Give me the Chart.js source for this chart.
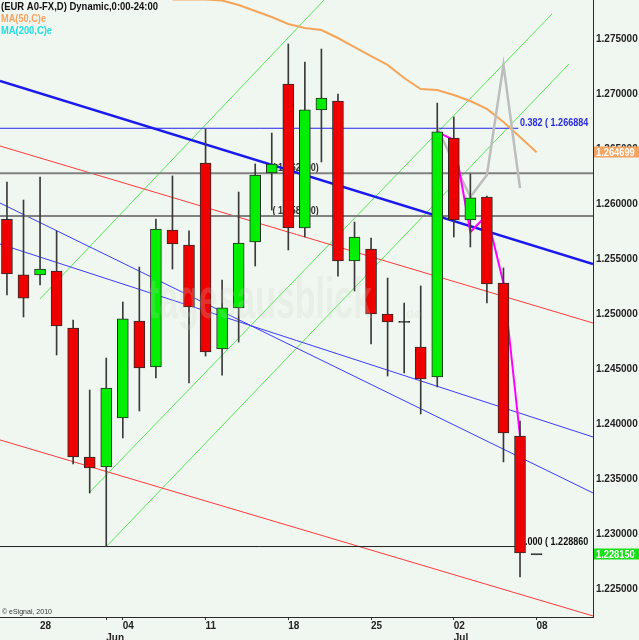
<!DOCTYPE html>
<html>
<head>
<meta charset="utf-8">
<title>EUR A0-FX daily</title>
<script src="https://cdn.jsdelivr.net/npm/chart.js@4.4.1/dist/chart.umd.min.js"></script>
<style>
  html, body { margin: 0; padding: 0; background: #f0f7f0; }
  #wrap { width: 639px; height: 640px; position: relative; }
</style>
</head>
<body>
<div id="wrap"><canvas id="chart"></canvas></div>
<script>
// daily bars, 0 = first visible candle
const dayIndex = [0, 1, 2, 3, 4, 5, 6, 7, 8, 9, 10, 11, 12, 13, 14, 15, 16, 17, 18, 19, 20, 21, 22, 23, 24, 25, 26, 27, 28, 29, 30, 31, 32];
const opens  = [1.25860, 1.25355, 1.25355, 1.25391, 1.24873, 1.23700, 1.23609, 1.24055, 1.24936, 1.24518, 1.25764, 1.25627, 1.26373, 1.24682, 1.25055, 1.25655, 1.26282, 1.27091, 1.25782, 1.26855, 1.26936, 1.25482, 1.25591, 1.25000, 1.24932, 1.24700, 1.24427, 1.26600, 1.25855, 1.26064, 1.25282, 1.23891, 1.22815];
const highs  = [1.26200, 1.26036, 1.26245, 1.25755, 1.24945, 1.24309, 1.24600, 1.25109, 1.25427, 1.25864, 1.26255, 1.25755, 1.26682, 1.25309, 1.26109, 1.26364, 1.26645, 1.27455, 1.27291, 1.27409, 1.27000, 1.25836, 1.25691, 1.25327, 1.25100, 1.25255, 1.26918, 1.26791, 1.26273, 1.26073, 1.25418, 1.24027, 1.22815];
const lows   = [1.25173, 1.24973, 1.25264, 1.24627, 1.23636, 1.23373, 1.22886, 1.23873, 1.24118, 1.24418, 1.25409, 1.24373, 1.24618, 1.24445, 1.24745, 1.25436, 1.25945, 1.25582, 1.25700, 1.26382, 1.25345, 1.25209, 1.24727, 1.24436, 1.24464, 1.24091, 1.24336, 1.25700, 1.25609, 1.25100, 1.23655, 1.22609, 1.22815];
const closes = [1.25364, 1.25145, 1.25409, 1.24891, 1.23700, 1.23600, 1.24327, 1.24955, 1.24509, 1.25773, 1.25636, 1.25064, 1.24655, 1.25055, 1.25645, 1.26264, 1.26364, 1.25782, 1.26855, 1.26964, 1.25482, 1.25700, 1.25000, 1.24927, 1.24925, 1.24409, 1.26655, 1.25855, 1.26055, 1.25273, 1.23918, 1.22827, 1.22815];

// MA(50) - only the visible part
const ma50Index = [10, 11, 12, 13, 14, 15, 16, 17, 18, 19, 20, 21, 22, 23, 24, 25, 26, 27, 28, 29, 30, 31, 32];
const ma50Values = [1.27860, 1.27860, 1.27860, 1.27850, 1.27809, 1.27755, 1.27700, 1.27636, 1.27600, 1.27582, 1.27509, 1.27427, 1.27345, 1.27264, 1.27145, 1.27045, 1.27036, 1.26991, 1.26936, 1.26864, 1.26745, 1.26609, 1.264699];

// zigzag lines on the last bars
const grayIndex = [26, 28, 29, 30, 31];
const grayValues = [1.26691, 1.26064, 1.26264, 1.27264, 1.26145];
const pinkIndex = [26, 27, 28, 29, 30, 31];
const pinkValues = [1.26655, 1.26582, 1.25745, 1.25900, 1.25282, 1.23891];

// trendlines: [index, price] end points
const trendBlue  = [[-0.42, 1.27118], [35.41, 1.25455]];
const channelA   = [[-0.42, 1.26009], [35.41, 1.23373]];
const channelB   = [[-0.42, 1.25636], [35.41, 1.23882]];
const redUpper   = [[-0.42, 1.26527], [35.41, 1.24918]];
const redLower   = [[-0.42, 1.23855], [35.41, 1.22255]];
const greenOne   = [[1.99, 1.25136], [19.73, 1.27945]];
const greenTwo   = [[4.95, 1.23373], [32.93, 1.27727]];
const greenThree = [[5.98, 1.22882], [33.96, 1.27273]];

// horizontal levels
const levels = [1.2628, 1.2589];
const levelLabels = ['( 1.262800)', '( 1.258900)'];
const fibLevels = [1.266884, 1.228860];
const fibLabels = ['0.382 ( 1.266884', '0.000 ( 1.228860'];
const fibStart = -0.42, fibEnd = 30.9;

// axis
const priceTicks = [1.225, 1.230, 1.235, 1.240, 1.245, 1.250, 1.255, 1.260, 1.265, 1.270, 1.275];
const tickIndex  = [2, 6, 7, 12, 17, 22, 27, 32];
const tickDays   = ['28', '', '04', '11', '18', '25', '02', '08'];
const tickMonths = ['', 'Jun', '', '', '', '', 'Jul', ''];
const lastPrice = 1.22815;
const ma50Last = 1.264699;

const xMin = -0.42, xMax = 35.41;
const yMin = 1.222455, yMax = 1.278545;

const sans = "'Liberation Sans', Arial, sans-serif";

function bodyRange(i) {
    const lo = Math.min(opens[i], closes[i]);
    const hi = Math.max(opens[i], closes[i]);
    if (hi - lo < 0.0001) {
        const m = (hi + lo) / 2;
        return [m - 0.00006, m + 0.00006];
    }
    return [lo, hi];
}

function bodyColor(i) {
    if (Math.abs(opens[i] - closes[i]) < 0.0001) return '#222';
    return closes[i] >= opens[i] ? '#00ee00' : '#ee0000';
}

function segment(points, color, width, order) {
    return {
        type: 'line',
        data: points.map(p => ({ x: p[0], y: p[1] })),
        borderColor: color,
        borderWidth: width,
        pointRadius: 0,
        fill: false,
        tension: 0,
        clip: 0,
        order: order || 10
    };
}

// узкий шрифт: сжимаем по горизонтали
function narrowText(ctx, text, x, y, sx) {
    ctx.save();
    ctx.translate(x, y);
    ctx.scale(sx, 1);
    ctx.fillText(text, 0, 0);
    ctx.restore();
}

function noPadding(s) {
    s.paddingTop = 0;
    s.paddingBottom = 0;
    s.paddingLeft = 0;
    s.paddingRight = 0;
}

const overlay = {
    id: 'overlay',
    beforeDatasetsDraw(chart) {
        const { ctx, chartArea: a, scales: { x, y } } = chart;
        ctx.save();
        ctx.beginPath();
        ctx.rect(a.left, a.top, a.right - a.left, a.bottom - a.top);
        ctx.clip();
        ctx.textBaseline = 'alphabetic';
        ctx.font = 'bold 11px ' + sans;

        // подписи уровней (под свечами)
        ctx.fillStyle = '#333';
        levels.forEach((v, i) => {
            narrowText(ctx, levelLabels[i], x.getPixelForValue(16.05), y.getPixelForValue(v) - 2, 0.82);
        });

        // фибо
        ctx.fillStyle = '#2a2ae0';
        narrowText(ctx, fibLabels[0], x.getPixelForValue(31.0), y.getPixelForValue(fibLevels[0]) - 2, 0.82);
        ctx.fillStyle = '#111';
        narrowText(ctx, fibLabels[1], x.getPixelForValue(31.0), y.getPixelForValue(fibLevels[1]) - 2, 0.82);
        ctx.restore();
    },
    afterDatasetsDraw(chart) {
        const { ctx, chartArea: a } = chart;
        ctx.save();
        ctx.beginPath();
        ctx.rect(a.left, a.top, a.right - a.left, a.bottom - a.top);
        ctx.clip();
        // водяной знак
        ctx.fillStyle = 'rgba(200, 215, 200, 0.22)';
        ctx.textBaseline = 'alphabetic';
        ctx.font = 'bold 58px ' + sans;
        const w = ctx.measureText('tagesausblick').width;
        narrowText(ctx, 'tagesausblick', 148, 318, 224 / w);
        ctx.font = 'bold 13px ' + sans;
        ctx.fillText('de', 406, 318);
        ctx.restore();
    },
    afterDraw(chart) {
        const { ctx, chartArea: a, scales: { y } } = chart;
        ctx.save();
        ctx.textBaseline = 'alphabetic';
        ctx.textAlign = 'left';
        ctx.font = 'bold 11.5px ' + sans;
        ctx.fillStyle = '#111';
        narrowText(ctx, '(EUR A0-FX,D) Dynamic,0:00-24:00', 1, 10, 157 / ctx.measureText('(EUR A0-FX,D) Dynamic,0:00-24:00').width);
        ctx.fillStyle = '#f4a460';
        narrowText(ctx, 'MA(50,C)e', 1, 22, 45 / ctx.measureText('MA(50,C)e').width);
        ctx.fillStyle = '#22dede';
        narrowText(ctx, 'MA(200,C)e', 1, 34, 51 / ctx.measureText('MA(200,C)e').width);

        ctx.font = '7px ' + sans;
        ctx.fillStyle = '#333';
        ctx.fillText('\u00a9 eSignal, 2010', 2, 614);

        // ценники справа
        const boxes = [[ma50Last, '#f4a460'], [lastPrice, '#19e019']];
        ctx.font = 'bold 10px ' + sans;
        ctx.textBaseline = 'middle';
        boxes.forEach(([v, c]) => {
            const py = y.getPixelForValue(v);
            ctx.fillStyle = c;
            ctx.fillRect(a.right + 1, Math.round(py) - 5.5, 639 - a.right, 11);
            ctx.fillStyle = '#fff';
            narrowText(ctx, v.toFixed(6), a.right + 3, py + 0.5, 0.93);
        });
        ctx.restore();
    }
};

const datasets = [
    {
        type: 'bar',
        data: dayIndex.map((d, i) => ({ x: d, y: bodyRange(i) })),
        backgroundColor: dayIndex.map((d, i) => bodyColor(i)),
        borderColor: '#2a2a2a',
        borderWidth: 1,
        borderSkipped: false,
        barThickness: 11,
        grouped: false,
        order: 1
    },
    {
        type: 'bar',
        data: dayIndex.map((d, i) => ({ x: d, y: [lows[i], highs[i]] })),
        backgroundColor: '#3a3a3a',
        borderWidth: 0,
        barThickness: 1,
        grouped: false,
        order: 2
    },
    segment([[xMin, levels[0]], [xMax, levels[0]]], '#808080', 2),
    segment([[xMin, levels[1]], [xMax, levels[1]]], '#808080', 2),
    segment([[fibStart, fibLevels[0]], [fibEnd, fibLevels[0]]], '#2525e8', 1),
    segment([[fibStart, fibLevels[1]], [fibEnd, fibLevels[1]]], '#222', 1),
    segment(redUpper, '#ff3a3a', 1),
    segment(redLower, '#ff3a3a', 1),
    segment(channelA, '#3b3bff', 1),
    segment(channelB, '#3b3bff', 1),
    segment(greenOne, '#55e855', 1),
    segment(greenTwo, '#55e855', 1),
    segment(greenThree, '#55e855', 1),
    segment(trendBlue, '#1a1aee', 2.5, 9),
    segment(ma50Index.map((d, i) => [d, ma50Values[i]]), '#f5a55a', 2, 8),
    segment(grayIndex.map((d, i) => [d, grayValues[i]]), '#bdbdbd', 2.5, 7),
    segment(pinkIndex.map((d, i) => [d, pinkValues[i]]), '#ff00ff', 2, 6)
];

new Chart(document.getElementById('chart'), {
    type: 'bar',
    data: { datasets },
    options: {
        responsive: true,
        maintainAspectRatio: false,
        animation: false,
        layout: { padding: 0 },
        plugins: { legend: { display: false }, tooltip: { enabled: false } },
        scales: {
            x: {
                type: 'linear',
                min: xMin,
                max: xMax,
                offset: false,
                afterBuildTicks: s => { s.ticks = tickIndex.map(v => ({ value: v })); },
                afterFit: s => { s.height = 23; noPadding(s); },
                grid: {
                    offset: false,
                    drawOnChartArea: false,
                    tickLength: 3,
                    color: ctx => (ctx.tick && ctx.tick.value === 2) ? 'rgba(0,0,0,0)' : '#333'
                },
                border: { display: true, color: '#2a2a2a', width: 1 },
                ticks: {
                    align: 'start',
                    padding: 0,
                    autoSkip: false,
                    maxRotation: 0,
                    color: '#222',
                    font: { family: sans, size: 10, weight: 'bold', lineHeight: 1.2 },
                    callback: (v, i) => tickMonths[i] ? [tickDays[i], tickMonths[i]] : tickDays[i]
                }
            },
            y: {
                position: 'right',
                min: yMin,
                max: yMax,
                afterBuildTicks: s => { s.ticks = priceTicks.map(v => ({ value: v })); },
                afterFit: s => { s.width = 46; noPadding(s); },
                grid: { display: false, drawTicks: false },
                border: { display: true, color: '#2a2a2a', width: 1 },
                ticks: {
                    padding: 3,
                    color: '#222',
                    font: { family: sans, size: 10, weight: 'bold' },
                    callback: v => v.toFixed(6)
                }
            }
        }
    },
    plugins: [overlay]
});
</script>
</body>
</html>
